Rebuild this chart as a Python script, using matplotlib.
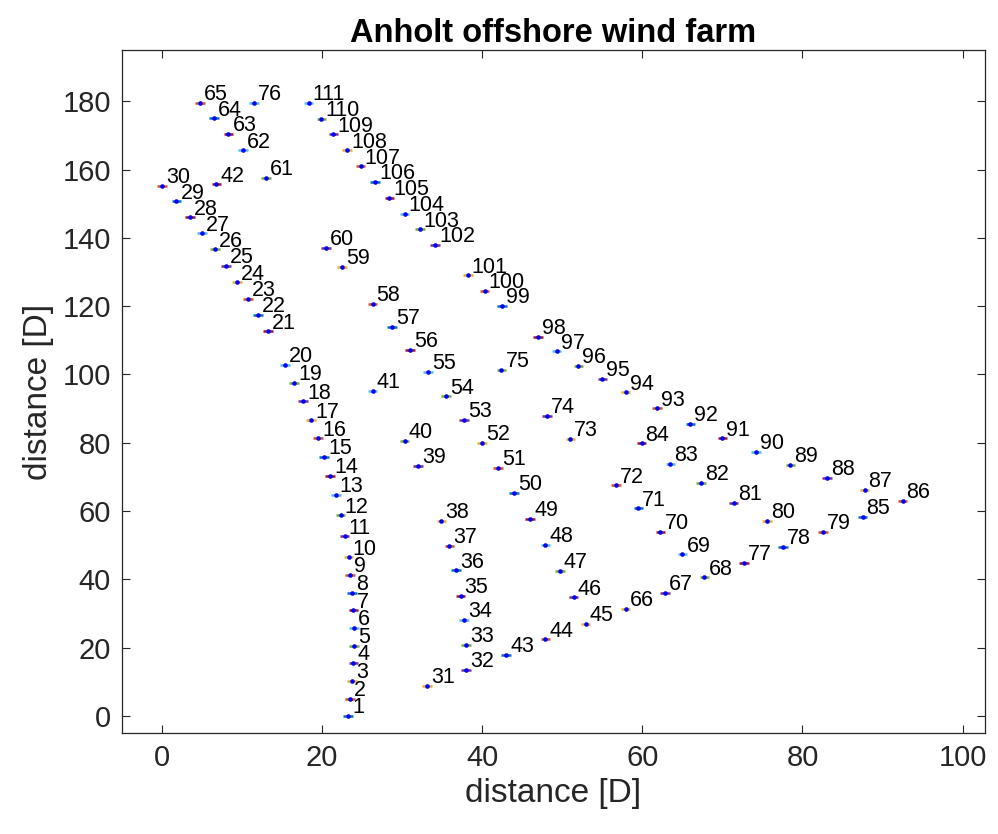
import numpy as np
import matplotlib
matplotlib.use('Agg')
import matplotlib.pyplot as plt

plt.rcParams['font.family'] = ['Liberation Sans', 'DejaVu Sans']

# turbine positions in rotor diameters, turbine number = index + 1
x_pos = [
    23.25, 23.5, 23.7, 23.9, 24.0, 24.0, 23.9, 23.7, 23.5, 23.3,
    22.8, 22.3, 21.7, 21.0, 20.25, 19.5, 18.6, 17.6, 16.5, 15.4,
    13.25, 12.0, 10.75, 9.4, 8.0, 6.6, 5.0, 3.5, 1.8, 0.0,
    33.1, 38.0, 38.0, 37.7, 37.3, 36.75, 35.9, 34.9, 32.0, 30.3,
    26.3, 6.8, 43.0, 47.9, 52.9, 51.4, 49.7, 47.9, 46.0, 44.0,
    42.0, 40.0, 37.75, 35.5, 33.2, 31.0, 28.7, 26.3, 22.5, 20.5,
    13.0, 10.1, 8.3, 6.5, 4.75, 57.9, 62.8, 67.75, 65.0, 62.25,
    59.5, 56.7, 51.0, 48.1, 42.4, 11.5, 72.7, 77.6, 82.6, 75.6,
    71.4, 67.3, 63.5, 59.9, 87.5, 92.5, 87.75, 83.1, 78.5, 74.2,
    70.0, 66.0, 61.8, 57.9, 55.0, 52.0, 49.3, 47.0, 42.5, 40.3,
    38.2, 34.1, 32.2, 30.3, 28.4, 26.6, 24.8, 23.1, 21.4, 19.9,
    18.3,
]
y_pos = [
    0.0, 5.1, 10.3, 15.5, 20.6, 25.8, 30.9, 36.1, 41.3, 46.4,
    52.6, 58.7, 64.8, 70.3, 75.8, 81.3, 86.6, 92.1, 97.5, 102.9,
    112.6, 117.4, 122.2, 127.0, 131.9, 136.6, 141.3, 146.0, 150.7, 155.3,
    8.9, 13.4, 20.8, 28.1, 35.2, 42.6, 49.8, 57.1, 73.3, 80.5,
    95.2, 155.7, 17.9, 22.4, 27.0, 34.7, 42.5, 50.1, 57.7, 65.4,
    72.7, 80.0, 86.7, 93.6, 100.7, 107.2, 113.9, 120.7, 131.5, 137.0,
    157.6, 165.6, 170.4, 175.0, 179.5, 31.4, 36.0, 40.6, 47.3, 54.0,
    60.8, 67.5, 81.1, 87.8, 101.3, 179.6, 44.9, 49.5, 53.9, 57.2,
    62.5, 68.2, 73.8, 79.8, 58.3, 63.0, 66.2, 69.8, 73.5, 77.3,
    81.3, 85.5, 90.1, 94.8, 98.7, 102.6, 106.8, 111.1, 120.0, 124.5,
    129.0, 138.0, 142.5, 147.0, 151.7, 156.3, 160.9, 165.6, 170.3, 174.9,
    179.6,
]
labels = [str(i + 1) for i in range(len(x_pos))]

# default line colour order, cycled over the turbines
color_order = [
    (0.000, 0.447, 0.741),
    (0.850, 0.325, 0.098),
    (0.929, 0.694, 0.125),
    (0.494, 0.184, 0.556),
    (0.466, 0.674, 0.188),
    (0.301, 0.745, 0.933),
    (0.635, 0.078, 0.184),
]
rotor_d = 1.0

fig = plt.figure(figsize=(9.98, 8.34), dpi=100)
ax = fig.add_axes([0.1222, 0.1211, 0.8648, 0.8189])

dark = (0.15, 0.15, 0.15)
for i, (x, y) in enumerate(zip(x_pos, y_pos)):
    c = color_order[i % len(color_order)]
    # rotor as a short horizontal segment, hub as a blue dot
    ax.plot([x - rotor_d * 0.6, x + rotor_d * 0.6], [y, y], color=c, lw=1.8, solid_capstyle='butt')
    ax.plot(x, y, 'o', color='b', ms=3.3, mec='b', mew=0)
    ax.text(x + 0.5, y + 2.4, labels[i], fontsize=15.5, ha='left', va='center', color='k')

ax.set_xlim(-5, 102.8)
ax.set_ylim(-5, 195)
ax.set_xticks(np.arange(0, 101, 20))
ax.set_yticks(np.arange(0, 181, 20))
ax.tick_params(direction='in', length=6, width=0.8, colors=dark, labelsize=21,
               top=True, right=True, pad=8)
for s in ax.spines.values():
    s.set_color(dark)
    s.set_linewidth(0.9)

ax.set_xlabel('distance [D]', fontsize=24, color=dark, labelpad=4)
ax.set_ylabel('distance [D]', fontsize=24, color=dark, labelpad=6)
ax.set_title('Anholt offshore wind farm', fontsize=23.5, fontweight='bold', color='k', pad=6)

fig.savefig('out.png', dpi=100)
